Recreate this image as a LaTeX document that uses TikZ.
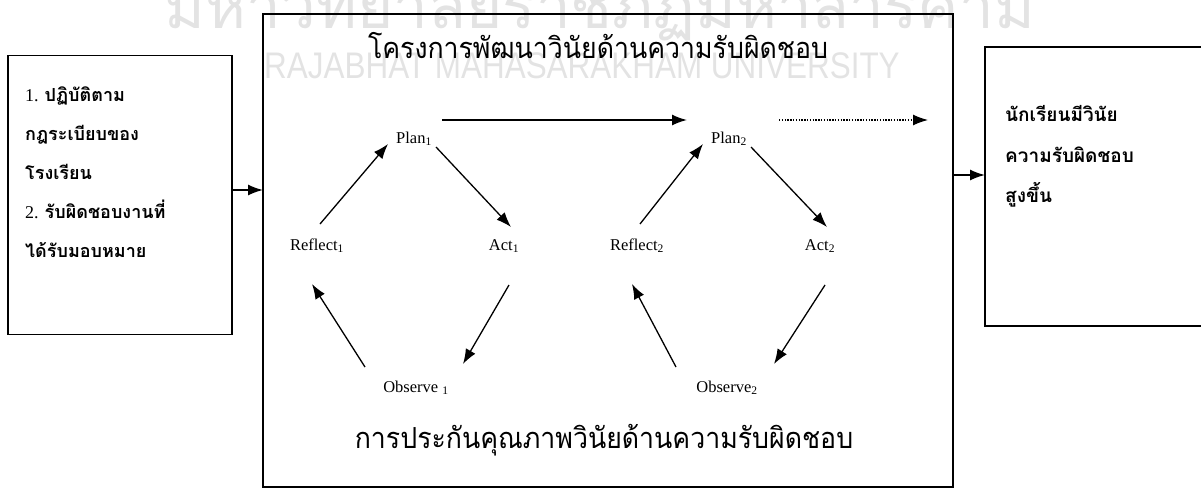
\documentclass[tikz,border=0pt]{standalone}
\usepackage{fontspec}
\setmainfont{Liberation Serif}
\newfontfamily\thai[Script=Thai]{Loma}
\newfontfamily\wmsans{Liberation Sans}
\usetikzlibrary{arrows.meta}
\begin{document}
\begin{tikzpicture}[x=1pt,y=-1pt,
  box/.style={draw, line width=1.7pt, inner sep=0pt, outer sep=0pt},
  lbl/.style={font=\fontsize{16.5}{18}\selectfont, inner sep=0pt, anchor=base},
  boxtext/.style={font=\fontsize{18}{22}\selectfont\thai\bfseries, inner sep=0pt, anchor=base west},
  title/.style={font=\fontsize{29}{31}\selectfont\thai, xscale=0.92, inner sep=0pt, anchor=base},
  arr/.style={line width=1.3pt, -{Latex[length=15pt,width=11pt]}},
  wm/.style={text=black!11, inner sep=0pt}]
\useasboundingbox (0,0) rectangle (1201,488);
\clip (0,0) rectangle (1201,488);
% watermark of the scanned page
\node[wm, font=\fontsize{62}{62}\selectfont\thai, anchor=base] (wmth) at (600,28) {มหาวิทยาลัยราชภัฏมหาสารคาม};
\node[wm, font=\fontsize{37}{37}\selectfont\wmsans, xscale=0.85, anchor=base] (wmen) at (582,78) {RAJABHAT MAHASARAKHAM UNIVERSITY};
% boxes
\node[box, minimum width=224pt, minimum height=279pt] (left) at (120,195) {};
\node[box, minimum width=690pt, minimum height=473pt] (big) at (608,250.5) {};
\node[box, minimum width=240pt, minimum height=279pt] (right) at (1105,186.5) {};
% left box text
\node[boxtext] (l1) at (25,101) {\rmfamily\mdseries 1. \thai\bfseries ปฏิบัติตาม};
\node[boxtext] (l2) at (25,140) {กฎระเบียบของ};
\node[boxtext] (l3) at (25,179) {โรงเรียน};
\node[boxtext] (l4) at (25,218) {\rmfamily\mdseries 2. \thai\bfseries รับผิดชอบงานที่};
\node[boxtext] (l5) at (25,257) {ได้รับมอบหมาย};
% right box text
\node[boxtext, font=\fontsize{19}{22}\selectfont\thai\bfseries] (r1t) at (1005,121) {นักเรียนมีวินัย};
\node[boxtext, font=\fontsize{19}{22}\selectfont\thai\bfseries] (r2t) at (1005,162) {ความรับผิดชอบ};
\node[boxtext, font=\fontsize{19}{22}\selectfont\thai\bfseries] (r3t) at (1005,202) {สูงขึ้น};
% titles
\node[title] (ttop) at (598,58) {โครงการพัฒนาวินัยด้านความรับผิดชอบ};
\node[title] (tbot) at (604,448) {การประกันคุณภาพวินัยด้านความรับผิดชอบ};
% cycle labels
\node[lbl] (p1) at (414,143) {Plan\textsubscript{1}};
\node[lbl] (a1) at (504,250) {Act\textsubscript{1}};
\node[lbl] (r1) at (317,250) {Reflect\textsubscript{1}};
\node[lbl] (o1) at (416,392) {Observe \textsubscript{1}};
\node[lbl] (p2) at (729,143) {Plan\textsubscript{2}};
\node[lbl] (a2) at (820,250) {Act\textsubscript{2}};
\node[lbl] (r2) at (637,250) {Reflect\textsubscript{2}};
\node[lbl] (o2) at (727,392) {Observe\textsubscript{2}};
% cycle arrows
\foreach \c in {1,2}{
  \draw[arr] ([shift={(3,-26)}]r\c.base) -- ([shift={(-26,1)}]p\c.base);
  \draw[arr] ([shift={(22,4)}]p\c.base) -- ([shift={(7,-23)}]a\c.base);
  \draw[arr] ([shift={(5,35)}]a\c.base) -- ([shift={(47,-28)}]o\c.base);
  \draw[arr] ([shift={(-51,-25)}]o\c.base) -- ([shift={(-5,34)}]r\c.base);
}
\draw[arr, line width=1.5pt] ([shift={(28,-23)}]p1.base) -- ([shift={(-42,-23)}]p2.base);
\coordinate (dotend) at (928,120);
\draw[line width=1.3pt, dash pattern=on 1.4pt off 1.4pt, -{Latex[length=15pt,width=11pt]}] ([shift={(50,-23)}]p2.base) -- (dotend);
% connectors between boxes
\draw[arr, line width=1.5pt] (left.east |- 0,190) -- (big.west |- 0,190);
\draw[arr, line width=1.5pt] (big.east |- 0,175) -- (right.west |- 0,175);
\end{tikzpicture}
\end{document}
